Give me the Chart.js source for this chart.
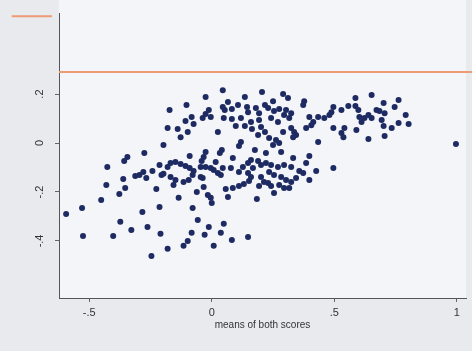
<!DOCTYPE html>
<html>
<head>
<meta charset="utf-8">
<script src="https://cdn.jsdelivr.net/npm/chart.js@4.4.0/dist/chart.umd.min.js"></script>
<style>
  html, body { margin: 0; padding: 0; background: #e8eaee; }
  #wrap { width: 472px; height: 351px; }
</style>
</head>
<body>
<div id="wrap"><canvas id="diffChart" width="472" height="351"></canvas></div>
<script>
// points, [mean of both scores, difference]
const leftTail = [
    [-0.594, -0.290], [-0.529, -0.265], [-0.525, -0.380], [-0.451, -0.233], [-0.430, -0.171],
    [-0.426, -0.098], [-0.402, -0.380], [-0.377, -0.208], [-0.373, -0.322], [-0.361, -0.147],
    [-0.353, -0.184], [-0.357, -0.073], [-0.344, -0.057], [-0.328, -0.355], [-0.312, -0.135],
    [-0.295, -0.131], [-0.279, -0.118], [-0.267, -0.143], [-0.275, -0.041], [-0.283, -0.282],
    [-0.262, -0.343], [-0.246, -0.461], [-0.242, -0.114], [-0.226, -0.188], [-0.213, -0.090],
    [-0.205, -0.131], [-0.213, -0.261], [-0.209, -0.371]
];
const upperBand = [
    [0.045, 0.216], [-0.025, 0.188], [-0.103, 0.155], [-0.172, 0.135], [0.205, 0.208],
    [0.135, 0.188], [0.066, 0.167], [0.045, 0.147], [0.053, 0.135], [0.082, 0.139],
    [0.107, 0.155], [0.144, 0.147], [0.148, 0.126], [0.180, 0.143], [0.193, 0.122],
    [0.217, 0.155], [-0.012, 0.135], [-0.025, 0.118], [-0.037, 0.102], [-0.004, 0.106],
    [-0.082, 0.106], [-0.107, 0.090], [-0.074, 0.078], [0.049, 0.102], [0.082, 0.098],
    [0.119, 0.102], [0.098, 0.069], [0.135, 0.069], [0.160, 0.086], [0.164, 0.057],
    [0.193, 0.094], [0.201, 0.065], [0.189, 0.033], [0.217, 0.045], [-0.180, 0.061],
    [-0.139, 0.057], [-0.127, 0.024], [-0.098, 0.045], [0.025, 0.045], [0.119, 0.004],
    [0.111, -0.012], [0.041, -0.029], [0.033, -0.041], [-0.197, -0.008], [-0.025, -0.037],
    [-0.033, -0.057], [-0.041, -0.073], [-0.090, -0.053], [0.176, -0.029], [0.086, -0.061]
];
const lowerBand = [
    [-0.180, -0.098], [-0.168, -0.082], [-0.148, -0.078], [-0.127, -0.086], [-0.107, -0.094],
    [-0.090, -0.102], [-0.074, -0.114], [-0.078, -0.131], [-0.197, -0.126], [-0.168, -0.139],
    [-0.148, -0.151], [-0.115, -0.159], [-0.156, -0.171], [-0.094, -0.151], [-0.045, -0.098],
    [-0.025, -0.098], [-0.004, -0.102], [0.008, -0.110], [0.025, -0.122], [0.037, -0.131],
    [0.016, -0.078], [-0.037, -0.143], [-0.033, -0.180], [0.078, -0.102], [0.045, -0.102],
    [0.111, -0.118], [0.127, -0.098], [0.148, -0.082], [0.160, -0.069], [0.189, -0.073],
    [0.201, -0.090], [0.221, -0.082], [0.148, -0.122], [0.160, -0.139], [0.152, -0.155],
    [0.131, -0.167], [0.111, -0.176], [0.086, -0.184], [0.057, -0.188], [0.168, -0.102],
    [0.201, -0.139], [0.213, -0.159], [0.193, -0.176], [-0.045, -0.139], [-0.135, -0.224],
    [-0.061, -0.200], [-0.016, -0.212], [-0.004, -0.224], [0.000, -0.245], [0.066, -0.220],
    [0.184, -0.229]
];
const lowerTail = [
    [-0.078, -0.265], [-0.057, -0.314], [-0.012, -0.343], [-0.029, -0.375], [-0.082, -0.367],
    [-0.098, -0.400], [-0.115, -0.420], [-0.180, -0.432], [0.008, -0.420], [0.037, -0.367],
    [0.049, -0.330], [0.082, -0.396], [0.148, -0.384]
];
const rightBand = [
    [0.291, 0.200], [0.311, 0.184], [0.377, 0.171], [0.373, 0.155], [0.250, 0.171],
    [0.230, 0.143], [0.254, 0.131], [0.275, 0.139], [0.303, 0.135], [0.295, 0.114],
    [0.324, 0.122], [0.316, 0.102], [0.242, 0.102], [0.270, 0.086], [0.496, 0.147],
    [0.488, 0.126], [0.480, 0.114], [0.459, 0.102], [0.529, 0.135], [0.557, 0.151],
    [0.586, 0.184], [0.586, 0.151], [0.598, 0.135], [0.602, 0.106], [0.611, 0.086],
    [0.623, 0.102], [0.398, 0.106], [0.414, 0.086], [0.406, 0.073], [0.385, 0.061],
    [0.434, 0.106], [0.324, 0.061], [0.336, 0.045], [0.344, 0.033], [0.332, 0.024],
    [0.234, 0.020], [0.262, 0.012], [0.291, 0.045], [0.496, 0.061], [0.529, 0.041],
    [0.541, 0.061], [0.537, 0.024], [0.434, 0.004], [0.590, 0.053], [0.250, -0.008],
    [0.275, 0.000], [0.639, 0.016]
];
const rightLower = [
    [0.221, -0.041], [0.283, -0.037], [0.332, -0.061], [0.398, -0.053], [0.385, -0.082],
    [0.426, -0.114], [0.496, -0.102], [0.242, -0.090], [0.270, -0.098], [0.295, -0.090],
    [0.324, -0.098], [0.357, -0.114], [0.373, -0.122], [0.234, -0.118], [0.254, -0.131],
    [0.283, -0.139], [0.303, -0.151], [0.324, -0.159], [0.344, -0.143], [0.398, -0.151],
    [0.230, -0.163], [0.242, -0.176], [0.275, -0.171], [0.295, -0.184], [0.316, -0.184],
    [0.254, -0.204]
];
const farRight = [
    [0.652, 0.196], [0.701, 0.163], [0.762, 0.176], [0.746, 0.147], [0.672, 0.135],
    [0.684, 0.131], [0.705, 0.122], [0.639, 0.114], [0.652, 0.102], [0.693, 0.094],
    [0.701, 0.069], [0.734, 0.061], [0.762, 0.082], [0.791, 0.114], [0.803, 0.078],
    [0.705, 0.029], [0.996, -0.004]
];

// axes
const xTicks = [-0.5, 0, 0.5, 1];
const xTickLabels = ['-.5', '0', '.5', '1'];
const yTicks = [-0.4, -0.2, 0, 0.2];
const yTickLabels = ['-.4', '-.2', '0', '.2'];
const xRange = [-0.623, 1.037];
const yRange = [-0.633, 0.531];

// the orange rules
const refLineY = 0.29;
const refLineX = [-0.623, 1.07];
const topRuleY = 0.518;
const topRuleX = [-0.816, -0.652];

const allPoints = [].concat(leftTail, upperBand, lowerBand, lowerTail, rightBand, rightLower, farRight)
    .map(p => ({ x: p[0], y: p[1] }));

// backgrounds: grey graph region, lighter plot region
const bgPlugin = {
    id: 'bg',
    beforeDraw(chart) {
        const ctx = chart.ctx;
        const a = chart.chartArea;
        ctx.save();
        ctx.fillStyle = '#e8eaee';
        ctx.fillRect(0, 0, chart.width, chart.height);
        ctx.fillStyle = '#f4f5f8';
        ctx.fillRect(a.left, 0, a.right - a.left, a.bottom);
        ctx.restore();
    }
};

// stata style rotated y labels
const yLabelPlugin = {
    id: 'yLabels',
    afterDraw(chart) {
        const ctx = chart.ctx;
        const y = chart.scales.y;
        ctx.save();
        ctx.fillStyle = '#333';
        ctx.font = '11px "Liberation Sans", Arial, sans-serif';
        ctx.textAlign = 'center';
        ctx.textBaseline = 'middle';
        yTicks.forEach((v, i) => {
            ctx.save();
            ctx.translate(y.left + 40, y.getPixelForValue(v));
            ctx.rotate(-Math.PI / 2);
            ctx.fillText(yTickLabels[i], 0, 0);
            ctx.restore();
        });
        ctx.restore();
    }
};

const ctx = document.getElementById('diffChart').getContext('2d');
new Chart(ctx, {
    type: 'scatter',
    data: {
        datasets: [
            {
                label: 'difference',
                data: allPoints,
                pointRadius: 3,
                pointHoverRadius: 3,
                backgroundColor: '#1e2a62',
                borderWidth: 0
            },
            {
                type: 'line',
                label: 'reference',
                data: refLineX.map(x => ({ x: x, y: refLineY })),
                borderColor: '#ee9a72',
                borderWidth: 2,
                pointRadius: 0,
                clip: false
            },
            {
                type: 'line',
                label: 'top rule',
                data: topRuleX.map(x => ({ x: x, y: topRuleY })),
                borderColor: '#ee9a72',
                borderWidth: 2,
                pointRadius: 0,
                clip: false
            }
        ]
    },
    options: {
        responsive: false,
        animation: false,
        layout: { padding: { left: 0, right: 6, top: 13, bottom: 0 } },
        plugins: {
            legend: { display: false },
            tooltip: { enabled: false }
        },
        scales: {
            x: {
                type: 'linear',
                min: xRange[0],
                max: xRange[1],
                afterBuildTicks: scale => { scale.ticks = xTicks.map(v => ({ value: v })); },
                afterFit: scale => { scale.height = 53; },
                ticks: {
                    callback: v => xTickLabels[xTicks.indexOf(v)],
                    color: '#333',
                    font: { size: 11, family: '"Liberation Sans", Arial, sans-serif' },
                    padding: 4,
                    maxRotation: 0
                },
                grid: { drawOnChartArea: false, drawTicks: true, tickLength: 4, tickColor: '#666' },
                border: { display: true, color: '#555', width: 1 },
                title: {
                    display: true,
                    text: 'means of both scores',
                    color: '#333',
                    font: { size: 10, family: '"Liberation Sans", Arial, sans-serif' },
                    padding: { top: 0, bottom: 20 }
                }
            },
            y: {
                type: 'linear',
                min: yRange[0],
                max: yRange[1],
                afterBuildTicks: scale => { scale.ticks = yTicks.map(v => ({ value: v })); },
                afterFit: scale => { scale.width = 59; },
                ticks: { color: 'rgba(0,0,0,0)', font: { size: 11 } },
                grid: { drawOnChartArea: false, drawTicks: true, tickLength: 4, tickColor: '#666' },
                border: { display: true, color: '#555', width: 1 }
            }
        }
    },
    plugins: [bgPlugin, yLabelPlugin]
});
</script>
</body>
</html>
